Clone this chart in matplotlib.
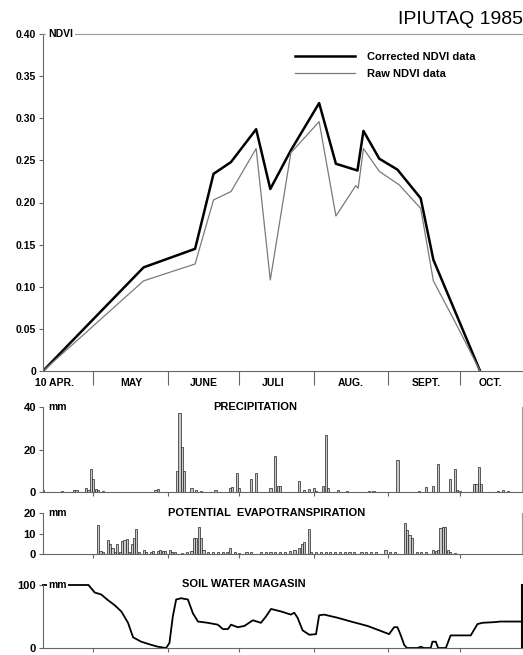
import matplotlib.pyplot as plt

plt.rcParams['font.family'] = ['Liberation Sans', 'DejaVu Sans']

# NDVI curves (x = day of year)
corr_days = [100, 142, 163.5, 171.2, 178.5, 189, 194.9, 203.5, 215.3, 222.3, 231.3, 233.8, 240.4, 248, 257.7, 263, 282.5]
corr_ndvi = [0, 0.123, 0.145, 0.234, 0.248, 0.287, 0.216, 0.262, 0.318, 0.246, 0.238, 0.285, 0.252, 0.239, 0.205, 0.132, 0]
raw_days = [100, 142, 163.5, 171.2, 178.5, 189, 194.9, 203.5, 215.3, 222.3, 230.6, 231.6, 233.8, 240.4, 248.7, 257.7, 263, 273, 282.5]
raw_ndvi = [0, 0.107, 0.127, 0.203, 0.213, 0.264, 0.108, 0.259, 0.296, 0.184, 0.220, 0.217, 0.264, 0.237, 0.221, 0.193, 0.107, 0.053, 0]

# daily precipitation (mm)
precip_days = [100, 108, 113, 114, 118, 119, 120, 121, 122, 123, 125, 147, 148, 156, 157, 158, 159, 162, 164, 166,
               172, 178, 179, 181, 182, 187, 189, 195, 197, 198, 199, 207, 209, 211, 213, 214, 217, 218, 219, 223,
               227, 236, 238, 248, 257, 260, 263, 265, 270, 272, 273, 274, 280, 281, 282, 283, 290, 292, 294]
precip_mm = [1, 0.5, 1, 0.8, 2, 1, 11, 6, 1.5, 1, 0.5, 1, 1.5, 10, 37, 21, 10, 2, 1, 0.5,
             1, 2, 2.5, 9, 2, 6, 9, 2, 17, 3, 3, 5, 1, 1.5, 2, 0.5, 3, 27, 2, 1,
             0.5, 0.5, 0.5, 15, 0.5, 2.5, 3, 13, 6, 11, 1, 0.5, 4, 4, 12, 4, 0.5, 1, 0.5]

# daily potential evapotranspiration (mm)
pet_days = [123, 124, 125, 127, 128, 129, 130, 131, 132, 133, 134, 135, 136, 137, 138, 139, 140, 142, 143, 145,
            146, 148, 149, 150, 151, 153, 154, 155, 158, 160, 162, 163, 164, 165, 166, 167, 169, 171, 173, 175,
            177, 178, 180, 182, 185, 187, 191, 193, 195, 197, 199, 201, 203, 205, 207, 208, 209, 211, 212, 214,
            216, 218, 220, 222, 224, 226, 228, 230, 233, 235, 237, 239, 243, 245, 247, 251, 252, 253, 254, 256,
            258, 260, 263, 264, 265, 266, 267, 268, 269, 270, 272]
pet_mm = [14, 1.5, 1, 7, 5, 3, 1, 5, 1, 6.5, 7, 7.5, 1, 5, 8, 12, 1, 2, 1, 1,
          1.5, 1.5, 2, 1.5, 1.5, 2, 1, 1, 0.5, 1, 1.5, 8, 8, 13, 8, 2, 1, 1, 1, 1,
          1, 3, 1, 0.5, 1, 1, 1, 1, 1, 1, 1, 1, 1.5, 2, 3, 5, 6, 12, 1, 1,
          1, 1, 1, 1, 1, 1, 1, 1, 1, 1, 1, 1, 2, 1, 1, 15, 11.5, 9.3, 8, 1,
          1, 1, 2, 1.5, 2, 12.5, 13, 13, 2, 1, 0.5]

# soil water content (mm)
soil_days = [100, 119, 121.6, 124.3, 127.1, 129.9, 132.7, 135.5, 137.6, 141, 145.2, 148, 151.4, 152.8, 154.2, 155.6,
             157.7, 160.5, 162.6, 164.7, 168.8, 173, 175.1, 177.2, 178.5, 181.3, 184.1, 187.6, 191, 193.1, 195.2,
             199.4, 203.5, 204.9, 206.3, 208.4, 211.2, 214, 215.3, 217.4, 223, 228.6, 235.5, 241.1, 244.5, 246.6,
             248, 249.4, 250.8, 251.9, 256.4, 257.7, 259.1, 261.9, 262.6, 264, 265, 268.2, 270.2, 278.6, 281.4,
             283.5, 288.3, 291.1, 300]
soil_mm = [100, 100, 88, 85, 76, 68, 58, 40, 17, 10, 5, 2, 0, 8, 50, 77,
           79, 77, 55, 42, 40, 37, 30, 30, 37, 33, 35, 44, 40, 50, 62,
           58, 53, 56, 48, 28, 21, 22, 52, 53, 48, 42, 35, 27, 22, 33,
           33, 20, 5, 0, 0, 2, 0, 0, 10, 10, 0, 0, 20, 20, 38,
           40, 41, 42, 42]

month_bounds = [121, 152, 182, 213, 244, 274]
month_pos = [105, 137, 167, 196, 228.5, 260, 287]
month_names = ['10 APR.', 'MAY', 'JUNE', 'JULI', 'AUG.', 'SEPT.', 'OCT.']

W, H = 523, 655
GREY = '#666666'


def box(x0, y0, x1, y1):
    # pixel box -> figure fraction
    return [x0 / W, 1 - y1 / H, (x1 - x0) / W, (y1 - y0) / H]


def fig_text(x, y, s, **kw):
    fig.text(x / W, 1 - y / H, s, **kw)


fig = plt.figure(figsize=(W / 100, H / 100), dpi=100)

# --- NDVI panel
ax = fig.add_axes(box(43, 34, 522, 371))
ax.plot(corr_days, corr_ndvi, color='black', lw=1.8, label='Corrected NDVI data')
ax.plot(raw_days, raw_ndvi, color='#7a7a7a', lw=0.9, label='Raw NDVI data')
ax.set_xlim(100, 300)
ax.set_ylim(0, 0.40)
ax.spines['right'].set_visible(False)
ax.spines['top'].set_color('#999999')
ax.spines['top'].set_linewidth(0.8)
for s in ['left', 'bottom']:
    ax.spines[s].set_color(GREY)
    ax.spines[s].set_linewidth(0.8)
yt = [0, 0.05, 0.10, 0.15, 0.20, 0.25, 0.30, 0.35, 0.40]
ax.set_yticks(yt)
ax.set_yticklabels(['0'] + ['%.2f' % v for v in yt[1:]], fontsize=7.5, fontweight='bold')
ax.tick_params(axis='y', length=3, width=0.8, color=GREY, pad=2)
ax.set_xticks(month_bounds)
ax.set_xticklabels([])
ax.tick_params(axis='x', which='major', length=10, width=0.8, color=GREY)
ax.set_xticks(month_pos, minor=True)
ax.set_xticklabels(month_names, minor=True, fontsize=7.5, fontweight='bold')
ax.tick_params(axis='x', which='minor', length=0, pad=5)
ax.text(0.01, 1.0, 'NDVI', transform=ax.transAxes, ha='left', va='center', fontsize=7.5,
        fontweight='bold', bbox=dict(facecolor='white', edgecolor='none', pad=1.5))
fig.legend(loc='upper left', bbox_to_anchor=(295 / W, 1 - 52 / H), frameon=False,
           prop={'weight': 'bold', 'size': 8}, handlelength=5.4, handletextpad=1.1,
           labelspacing=0.6, borderpad=0, borderaxespad=0)
fig_text(523, 20, 'IPIUTAQ 1985', ha='right', va='center', fontsize=14)


def small_panel(b, ymax, ticks, title, title_x, title_y):
    a = fig.add_axes(box(*b))
    a.set_xlim(100, 300)
    a.set_ylim(0, ymax)
    a.spines['top'].set_visible(False)
    a.spines['right'].set_color('#999999')
    a.spines['right'].set_linewidth(0.8)
    for s in ['left', 'bottom']:
        a.spines[s].set_color(GREY)
        a.spines[s].set_linewidth(0.8)
    a.set_yticks(ticks)
    a.set_yticklabels([str(t) for t in ticks], fontsize=8, fontweight='bold')
    a.tick_params(axis='y', length=3, width=0.8, color=GREY, pad=2)
    a.set_xticks(month_bounds)
    a.set_xticklabels([])
    a.tick_params(axis='x', length=3, width=0.8, color=GREY)
    a.text(5 / 479, 1.0, 'mm', transform=a.transAxes, ha='left', va='center', fontsize=7.5,
           fontweight='bold', zorder=5, bbox=dict(facecolor='white', edgecolor='none', pad=1))
    fig_text(title_x, title_y, title, ha='center', va='center', fontsize=8, fontweight='bold')
    return a


# --- precipitation
ax2 = small_panel((43, 407, 522, 492), 40, [0, 20, 40], 'PRECIPITATION', 255, 407)
ax2.bar(precip_days, precip_mm, width=0.9, color='#c8c8c8', edgecolor='#222222', linewidth=0.5)

# --- potential evapotranspiration
ax3 = small_panel((43, 513, 522, 554), 20, [0, 10, 20], 'POTENTIAL  EVAPOTRANSPIRATION', 267, 513)
ax3.bar(pet_days, pet_mm, width=0.9, color='#c8c8c8', edgecolor='#222222', linewidth=0.5)

# --- soil water
ax4 = small_panel((43, 585, 522, 648), 100, [0, 100], 'SOIL WATER MAGASIN', 244, 584)
ax4.plot(soil_days, soil_mm, color='black', lw=1.3, clip_on=False)
ax4.spines['right'].set_color('black')
ax4.spines['right'].set_linewidth(1.5)

fig.savefig('out.png', dpi=100)
